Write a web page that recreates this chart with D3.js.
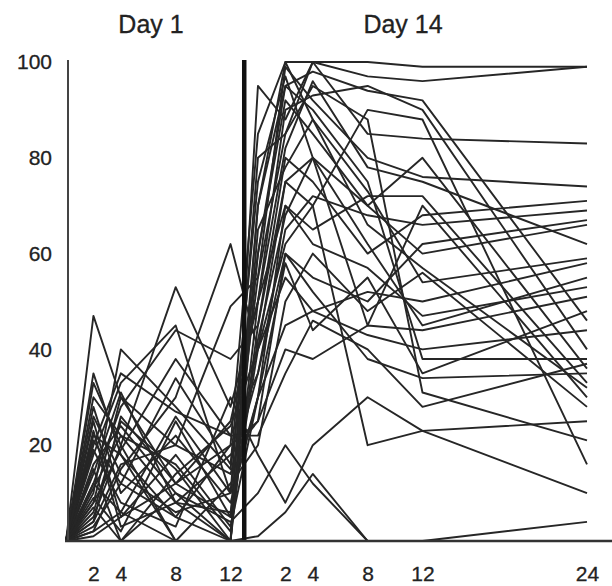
<!DOCTYPE html>
<html>
<head>
<meta charset="utf-8">
<script src="https://cdn.jsdelivr.net/npm/d3@7"></script>
<style>
  body { margin: 0; background: #fff; }
  text { font-family: "Liberation Sans", Arial, sans-serif; fill: #222; stroke: #222; stroke-width: 0.3px; }
</style>
</head>
<body>
<div class="chart"></div>
<script>
// sampling times (hours) for each day
const day1Times = [0, 2, 4, 8, 12];
const day14Times = [0, 2, 4, 8, 12, 24];
const day14Offset = 14; // day 14 plotted after day 1 on one axis

const panelTitles = ["Day 1", "Day 14"];
const yTicks = [20, 40, 60, 80, 100];
const day1TickLabels = [2, 4, 8, 12];
const day14TickLabels = [2, 4, 8, 12, 24];

// % values per subject, day 1 at day1Times
const day1Values = [
  [0, 47, 30, 12, 5],
  [0, 30, 22, 8, 0],
  [0, 10, 40, 28, 15],
  [0, 5, 20, 53, 28],
  [0, 18, 33, 45, 10],
  [0, 2, 15, 30, 62],
  [0, 8, 30, 20, 49],
  [0, 25, 5, 18, 3],
  [0, 12, 28, 44, 38],
  [0, 20, 35, 27, 22],
  [0, 3, 12, 5, 20],
  [0, 15, 0, 10, 0],
  [0, 22, 18, 0, 12],
  [0, 6, 25, 15, 0],
  [0, 28, 10, 22, 8],
  [0, 1, 5, 12, 25],
  [0, 14, 31, 8, 18],
  [0, 9, 2, 25, 5],
  [0, 33, 20, 0, 0],
  [0, 4, 16, 20, 14],
  [0, 19, 8, 3, 30],
  [0, 11, 22, 16, 2],
  [0, 26, 14, 6, 10],
  [0, 7, 0, 14, 24],
  [0, 2, 6, 0, 0],
  [0, 16, 24, 10, 4],
  [0, 21, 12, 34, 16],
  [0, 35, 18, 5, 0],
  [0, 12, 6, 26, 10],
  [0, 4, 26, 12, 20],
  [0, 23, 3, 8, 6],
  [0, 8, 19, 38, 22]
];

// % values per subject, day 14 at day14Times
const day14Values = [
  [70, 100, 100, 100, 99, 99],
  [95, 88, 100, 97, 96, 99],
  [60, 95, 98, 94, 92, 46],
  [50, 90, 93, 95, 90, 40],
  [80, 85, 100, 85, 84, 83],
  [40, 75, 80, 70, 80, 36],
  [55, 99, 92, 80, 76, 74],
  [30, 70, 65, 72, 72, 33],
  [45, 80, 75, 60, 68, 71],
  [35, 65, 72, 68, 66, 69],
  [25, 60, 55, 50, 62, 67],
  [60, 92, 85, 70, 60, 66],
  [20, 50, 60, 48, 56, 28],
  [65, 78, 88, 73, 54, 59],
  [30, 45, 48, 52, 50, 58],
  [50, 70, 62, 57, 47, 53],
  [25, 40, 38, 45, 44, 51],
  [40, 55, 48, 43, 40, 44],
  [70, 95, 90, 75, 38, 38],
  [35, 60, 52, 38, 34, 35],
  [18, 8, 20, 30, 23, 25],
  [45, 75, 70, 20, 23, 10],
  [55, 85, 95, 88, 31, 21],
  [40, 62, 70, 90, 88, 16],
  [1, 6, 14, 0, 0, 0],
  [10, 20, 12, 0, 0, 4],
  [75, 97, 80, 45, 70, 30],
  [50, 82, 96, 78, 75, 62],
  [30, 58, 44, 55, 35, 48],
  [85, 100, 88, 66, 57, 32],
  [42, 68, 80, 62, 45, 55],
  [22, 35, 46, 40, 28, 37]
];

const width = 612;
const height = 586;

const x = d3.scaleLinear()
  .domain([0, day14Offset + 24])
  .range([66, 587]);

const y = d3.scaleLinear()
  .domain([0, 100])
  .range([541, 62]);

const svg = d3.select(".chart")
  .append("svg")
  .attr("width", width)
  .attr("height", height);

// join both days into one path per subject
const subjects = day1Values.map((d1, i) => {
  const pts = d1.map((v, j) => [day1Times[j], v]);
  day14Values[i].forEach((v, j) => pts.push([day14Times[j] + day14Offset, v]));
  return pts;
});

const line = d3.line()
  .x(d => x(d[0]))
  .y(d => y(d[1]));

svg.append("g")
  .selectAll("path")
  .data(subjects)
  .enter()
  .append("path")
  .attr("d", line)
  .attr("fill", "none")
  .attr("stroke", "#262626")
  .attr("stroke-width", 1.9)
  .attr("stroke-linejoin", "round");

// y axis (labels only, plain line)
const yAxis = svg.append("g")
  .attr("transform", `translate(${x(0) + 2},0)`)
  .call(d3.axisLeft(y).tickValues(yTicks).tickSize(0).tickPadding(16));
yAxis.select(".domain").remove();
yAxis.selectAll("text")
  .style("font-size", "21px")
  .style("font-family", "Liberation Sans, Arial, sans-serif");

svg.append("line")
  .attr("x1", x(0) + 2).attr("x2", x(0) + 2)
  .attr("y1", y(100) - 2).attr("y2", y(0))
  .attr("stroke", "#444")
  .attr("stroke-width", 2);

// separator / day 14 axis
svg.append("line")
  .attr("x1", x(13)).attr("x2", x(13))
  .attr("y1", y(100) - 2).attr("y2", y(0))
  .attr("stroke", "#111")
  .attr("stroke-width", 4.5);

// x axis
const xTickPos = day1TickLabels.concat(day14TickLabels.map(t => t + day14Offset));
const xTickText = day1TickLabels.concat(day14TickLabels);
const xAxis = svg.append("g")
  .attr("transform", `translate(0,${y(0)})`)
  .call(d3.axisBottom(x)
    .tickValues(xTickPos)
    .tickSize(0)
    .tickPadding(25)
    .tickFormat((d, i) => xTickText[i]));
xAxis.select(".domain").remove();
xAxis.selectAll("text")
  .style("font-size", "21px")
  .style("font-family", "Liberation Sans, Arial, sans-serif");

svg.append("line")
  .attr("x1", 65).attr("x2", width)
  .attr("y1", y(0)).attr("y2", y(0))
  .attr("stroke", "#333")
  .attr("stroke-width", 2.5);

// panel titles
svg.selectAll("text.title")
  .data(panelTitles)
  .enter()
  .append("text")
  .attr("class", "title")
  .attr("x", (d, i) => i === 0 ? 151 : 403)
  .attr("y", 33)
  .attr("text-anchor", "middle")
  .style("font-size", "25px")
  .text(d => d);
</script>
</body>
</html>
